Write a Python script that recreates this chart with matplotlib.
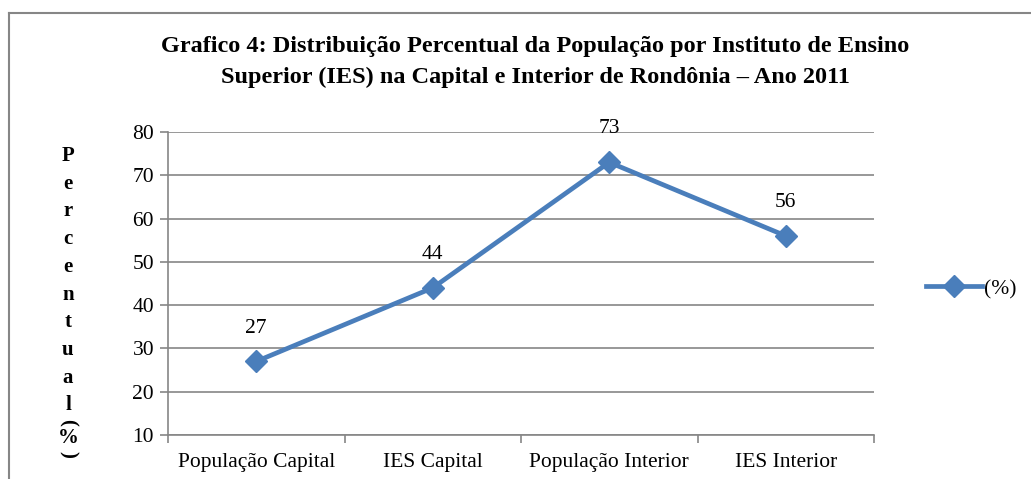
import matplotlib
matplotlib.use('Agg')
import matplotlib.pyplot as plt

# dados do gráfico
categorias = ['População Capital', 'IES Capital', 'População Interior', 'IES Interior']
percentual = [27, 44, 73, 56]
rotulo_serie = '(%)'
titulo = ('Grafico 4: Distribuição Percentual da População por Instituto de Ensino\n'
          'Superior (IES) na Capital e Interior de Rondônia – Ano 2011')
yticks = [10, 20, 30, 40, 50, 60, 70, 80]

plt.rcParams['font.family'] = ['Liberation Serif', 'DejaVu Serif']

cor_linha = '#4A7EBB'
cinza = '#868686'
fs = 15.5

fig = plt.figure(figsize=(10.31, 4.79), dpi=100)
W, H = 1031, 479

# moldura do gráfico (só borda esquerda e superior visíveis)
fig.add_artist(plt.Line2D([9 / W, 9 / W], [0, 1 - 13 / H], color=cinza, lw=1.5))
fig.add_artist(plt.Line2D([9 / W, 1], [1 - 13 / H, 1 - 13 / H], color=cinza, lw=1.5))

ax = fig.add_axes([168 / W, 1 - 435 / H, (874 - 168) / W, (435 - 132) / H])

x = list(range(len(categorias)))
ax.plot(x, percentual, color=cor_linha, lw=3.4, marker='D', markersize=11,
        label=rotulo_serie)

for xi, v in zip(x, percentual):
    ax.annotate(str(v), (xi, v), xytext=(0, 24), textcoords='offset points',
                ha='center', va='center', fontsize=fs)

ax.set_xlim(-0.5, len(categorias) - 0.5)
ax.set_ylim(10, 80)
ax.set_yticks(yticks)
ax.yaxis.grid(True, color=cinza, lw=1.2)
ax.set_axisbelow(True)

# ticks do eixo x nas fronteiras entre categorias
ax.set_xticks([i - 0.5 for i in range(len(categorias) + 1)])
ax.set_xticklabels([])
ax.set_xticks(x, minor=True)
ax.set_xticklabels(categorias, minor=True, fontsize=fs)
for lab in ax.get_xticklabels(minor=True):
    lab.set_va('baseline')
ax.tick_params(axis='x', which='minor', length=0, pad=23)
ax.tick_params(axis='x', which='major', length=6, color=cinza, width=1.2)
ax.tick_params(axis='y', length=6, color=cinza, width=1.2, labelsize=fs, pad=4)

for s in ['top', 'right']:
    ax.spines[s].set_visible(False)
for s in ['left', 'bottom']:
    ax.spines[s].set_color(cinza)
    ax.spines[s].set_linewidth(1.2)

fig.text(535 / W, 1 - 62 / H, titulo, ha='center', va='center',
         fontsize=17.5, fontweight='bold', linespacing=1.55)

# rótulo vertical do eixo y, letra por letra
letras = list('Percentual')
for i, ch in enumerate(letras):
    fig.text(68 / W, 1 - (156 + i * 27.7) / H, ch, ha='center', va='center',
             fontsize=15, fontweight='bold')
fig.text(68 / W, 1 - 422 / H, '(', rotation=-90, ha='center', va='center',
         fontsize=15, fontweight='bold')
fig.text(68 / W, 1 - 438 / H, '%', ha='center', va='center',
         fontsize=15, fontweight='bold')
fig.text(68 / W, 1 - 454 / H, ')', rotation=-90, ha='center', va='center',
         fontsize=15, fontweight='bold')

ax.legend(loc='center left', bbox_to_anchor=(926 / W, 1 - 289 / H),
          bbox_transform=fig.transFigure, frameon=False, fontsize=fs,
          handlelength=2.6, handletextpad=0.1, borderaxespad=0,
          borderpad=0)

fig.savefig('out.png', dpi=100)
